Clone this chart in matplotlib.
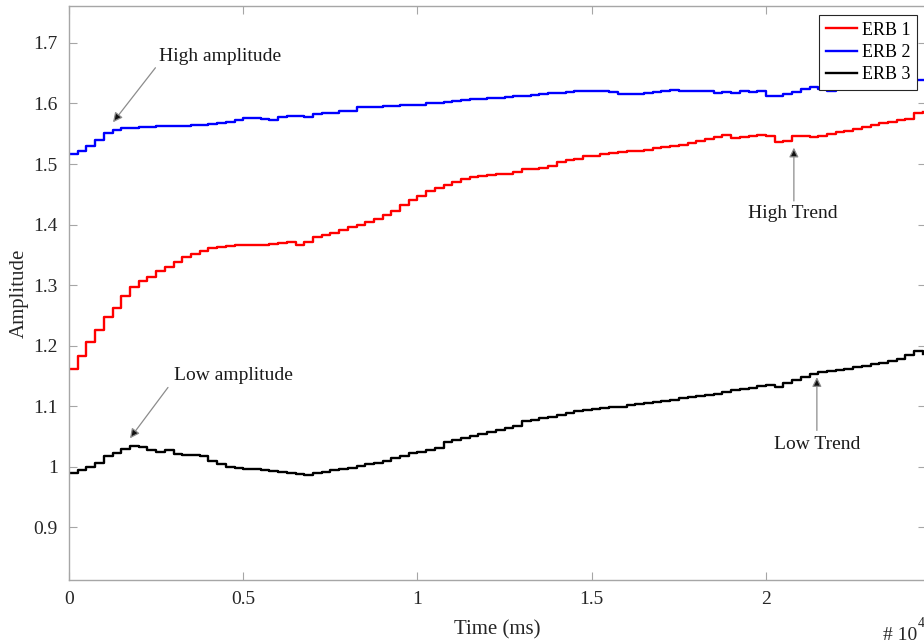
import numpy as np
import matplotlib
matplotlib.use("Agg")
import matplotlib.pyplot as plt

plt.rcParams['font.family'] = ['Liberation Serif', 'DejaVu Serif']
plt.rcParams['mathtext.fontset'] = 'stix'

# time axis (ms), one value every 250 ms
time_ms = np.arange(0, 24501, 250)

# ERB 1 (red)
erb1 = [1.161, 1.183, 1.206, 1.226, 1.247, 1.263, 1.282, 1.297, 1.306, 1.313,
        1.324, 1.330, 1.338, 1.346, 1.351, 1.357, 1.361, 1.363, 1.365, 1.366,
        1.367, 1.366, 1.367, 1.368, 1.370, 1.372, 1.367, 1.372, 1.380, 1.383,
        1.386, 1.391, 1.396, 1.400, 1.405, 1.410, 1.415, 1.422, 1.433, 1.440,
        1.447, 1.455, 1.461, 1.466, 1.470, 1.475, 1.478, 1.480, 1.482, 1.483,
        1.484, 1.487, 1.491, 1.492, 1.494, 1.497, 1.503, 1.506, 1.509, 1.513,
        1.514, 1.516, 1.518, 1.520, 1.521, 1.522, 1.524, 1.526, 1.528, 1.530,
        1.532, 1.535, 1.538, 1.541, 1.544, 1.548, 1.543, 1.545, 1.546, 1.548,
        1.547, 1.536, 1.538, 1.547, 1.547, 1.544, 1.547, 1.550, 1.553, 1.555,
        1.558, 1.561, 1.564, 1.568, 1.570, 1.573, 1.575, 1.584, 1.586]

# ERB 2 (blue)
erb2 = [1.517, 1.522, 1.530, 1.540, 1.552, 1.557, 1.560, 1.560, 1.561, 1.561,
        1.562, 1.562, 1.563, 1.563, 1.564, 1.565, 1.566, 1.567, 1.569, 1.572,
        1.576, 1.576, 1.575, 1.572, 1.577, 1.580, 1.579, 1.578, 1.583, 1.584,
        1.585, 1.587, 1.588, 1.594, 1.594, 1.595, 1.596, 1.596, 1.597, 1.597,
        1.598, 1.600, 1.600, 1.603, 1.604, 1.606, 1.607, 1.608, 1.609, 1.609,
        1.611, 1.612, 1.612, 1.614, 1.616, 1.617, 1.618, 1.619, 1.620, 1.621,
        1.621, 1.620, 1.619, 1.616, 1.615, 1.616, 1.618, 1.619, 1.621, 1.622,
        1.621, 1.621, 1.620, 1.620, 1.618, 1.619, 1.618, 1.620, 1.619, 1.621,
        1.612, 1.612, 1.616, 1.619, 1.624, 1.627, 1.624, 1.621, 1.624, 1.626,
        1.628, 1.629, 1.631, 1.632, 1.634, 1.636, 1.637, 1.638, 1.639]

# ERB 3 (black)
erb3 = [0.990, 0.995, 1.000, 1.007, 1.017, 1.022, 1.029, 1.035, 1.033, 1.028,
        1.025, 1.027, 1.021, 1.020, 1.019, 1.017, 1.010, 1.004, 1.000, 0.998,
        0.997, 0.996, 0.995, 0.993, 0.992, 0.990, 0.988, 0.986, 0.990, 0.992,
        0.994, 0.996, 0.998, 1.001, 1.004, 1.007, 1.010, 1.014, 1.018, 1.022,
        1.025, 1.028, 1.031, 1.041, 1.044, 1.048, 1.051, 1.054, 1.058, 1.060,
        1.064, 1.068, 1.075, 1.077, 1.080, 1.083, 1.086, 1.089, 1.092, 1.094,
        1.096, 1.097, 1.098, 1.099, 1.102, 1.104, 1.105, 1.107, 1.109, 1.111,
        1.113, 1.115, 1.117, 1.119, 1.121, 1.124, 1.126, 1.128, 1.130, 1.133,
        1.135, 1.132, 1.139, 1.143, 1.148, 1.153, 1.156, 1.158, 1.160, 1.162,
        1.164, 1.167, 1.169, 1.172, 1.175, 1.178, 1.185, 1.191, 1.187]

series_names = ['ERB 1', 'ERB 2', 'ERB 3']
series_colors = ['#ff0000', '#0000ff', '#000000']

x_ticks = [0, 5000, 10000, 15000, 20000]
x_ticklabels = ['0', '0.5', '1', '1.5', '2']
y_ticks = [0.9, 1.0, 1.1, 1.2, 1.3, 1.4, 1.5, 1.6, 1.7]
y_ticklabels = ['0.9', '1', '1.1', '1.2', '1.3', '1.4', '1.5', '1.6', '1.7']

fig = plt.figure(figsize=(9.24, 6.44), dpi=100)
ax = fig.add_axes([69 / 924, 1 - 580 / 644, 857.3 / 924, 574 / 644])

for vals, name, col in zip([erb1, erb2, erb3], series_names, series_colors):
    ax.plot(time_ms, vals, drawstyle='steps-post', color=col, lw=1.7, label=name)

ax.set_xlim(0, 24600)
ax.set_ylim(0.813, 1.761)
ax.set_xticks(x_ticks)
ax.set_xticklabels(x_ticklabels)
ax.set_yticks(y_ticks)
ax.set_yticklabels(y_ticklabels)

for s in ax.spines.values():
    s.set_color('#a6a6a6')
    s.set_linewidth(1.0)
ax.tick_params(direction='in', length=6, width=0.8, color='#a6a6a6',
               top=True, right=True, labelsize=14, labelcolor='#262626', pad=8)

ax.set_xlabel('Time (ms)', fontsize=15, color='#262626', labelpad=9)
ax.set_ylabel('Amplitude', fontsize=15, color='#262626', labelpad=3)

# exponent label as drawn in the original
fig.text(917 / 924, 1 - 640 / 644, '# 10', fontsize=14, color='#262626',
         ha='right', va='baseline')
fig.text(918 / 924, 1 - 627 / 644, '4', fontsize=10, color='#262626',
         ha='left', va='baseline')

leg = ax.legend(loc='upper right', bbox_to_anchor=(0.989, 0.984), fontsize=13,
                frameon=True, fancybox=False, framealpha=1, handlelength=1.7,
                borderpad=0.35, labelspacing=0.3, handletextpad=0.3,
                borderaxespad=0)
leg.get_frame().set_edgecolor('#262626')
leg.get_frame().set_linewidth(0.8)

arrow = dict(arrowstyle='-|>', ec='#8c8c8c', fc='#111111', lw=0.9,
             mutation_scale=14, shrinkA=0, shrinkB=0)
ax.text(2583, 1.677, 'High amplitude', fontsize=14, color='#1a1a1a', va='center')
ax.annotate('', xy=(1263, 1.569), xytext=(2480, 1.659), arrowprops=arrow)
ax.text(3013, 1.151, 'Low amplitude', fontsize=14, color='#1a1a1a', va='center')
ax.annotate('', xy=(1750, 1.047), xytext=(2840, 1.131), arrowprops=arrow)
ax.text(20775, 1.418, 'High Trend', fontsize=14, color='#1a1a1a',
        ha='center', va='center')
ax.annotate('', xy=(20800, 1.527), xytext=(20800, 1.439), arrowprops=arrow)
ax.text(21460, 1.037, 'Low Trend', fontsize=14, color='#1a1a1a',
        ha='center', va='center')
ax.annotate('', xy=(21460, 1.148), xytext=(21460, 1.060), arrowprops=arrow)

fig.savefig('out.png', dpi=100)
